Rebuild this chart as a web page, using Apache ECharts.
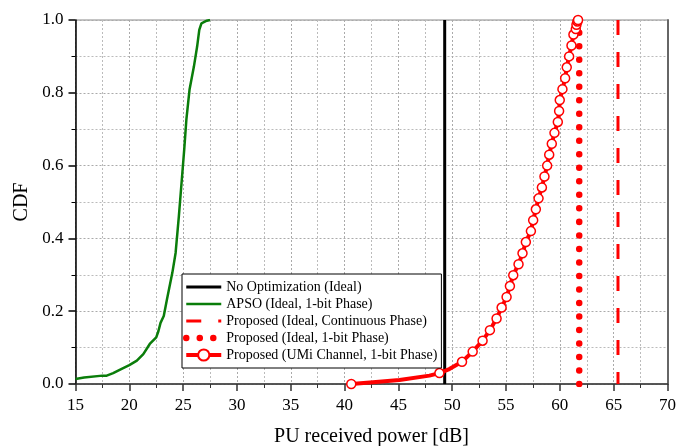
<!DOCTYPE html>
<html>
<head>
<meta charset="utf-8">
<script src="https://cdn.jsdelivr.net/npm/echarts@6/dist/echarts.min.js"></script>
<style>
html,body{margin:0;padding:0;background:#fff}
#cdf{width:692px;height:446px}
</style>
</head>
<body>
<div id="cdf"></div>
<script>
// series names, in legend order
var names = ['No Optimization (Ideal)', 'APSO (Ideal, 1-bit Phase)',
	'Proposed (Ideal, Continuous Phase)', 'Proposed (Ideal, 1-bit Phase)',
	'Proposed (UMi Channel, 1-bit Phase)'];

// vertical CDF steps (dB)
var noOptX = 49.3;
var contX = 65.4;
var oneBitX = 61.8;

// APSO curve
var apsoX = [15, 15.8, 17.5, 17.9, 18.5, 19.1, 20, 20.7, 21.3, 21.9, 22.5, 22.7, 22.9, 23.2, 23.5, 24.0,
	24.3, 24.6, 24.9, 25.1, 25.3, 25.6, 26.0, 26.3, 26.5, 26.7, 27.2, 27.5];
var apsoY = [0.014, 0.018, 0.023, 0.023, 0.030, 0.039, 0.052, 0.064, 0.082, 0.11, 0.128, 0.145, 0.168, 0.187, 0.233, 0.306,
	0.36, 0.46, 0.57, 0.644, 0.726, 0.81, 0.872, 0.927, 0.973, 0.991, 0.998, 1.0];

// UMi curve (mark: 1 = circle drawn at that point)
var umiX = [40.62, 42.63, 45.10, 47.88, 48.81, 49.73, 50.91, 51.90, 52.82, 53.50, 54.12, 54.59, 55.05, 55.36,
	55.67, 56.16, 56.53, 56.84, 57.31, 57.52, 57.77, 58.02, 58.33, 58.57, 58.82, 59.01, 59.25, 59.50,
	59.81, 59.93, 59.99, 60.24, 60.49, 60.64, 60.86, 61.08, 61.26, 61.48, 61.54, 61.63, 61.69];
var umiY = [0, 0.005, 0.011, 0.023, 0.03, 0.041, 0.061, 0.089, 0.119, 0.148, 0.18, 0.21, 0.239, 0.269,
	0.299, 0.329, 0.359, 0.39, 0.42, 0.45, 0.48, 0.51, 0.54, 0.57, 0.60, 0.63, 0.66, 0.69,
	0.72, 0.75, 0.78, 0.81, 0.84, 0.87, 0.90, 0.93, 0.96, 0.975, 0.987, 0.996, 1.0];
var umiMark = [1, 0, 0, 0, 1, 0, 1, 1, 1, 1, 1, 1, 1, 1,
	1, 1, 1, 1, 1, 1, 1, 1, 1, 1, 1, 1, 1, 1,
	1, 1, 1, 1, 1, 1, 1, 1, 1, 1, 1, 1, 1];

var font = 'Liberation Serif';

function pairs(xs, ys) {
	return xs.map(function (x, i) { return [x, ys[i]]; });
}
function vline(x) {
	return [[x, 1], [x, 0]];
}

var umiData = umiX.map(function (x, i) {
	var d = { value: [x, umiY[i]] };
	if (!umiMark[i]) d.symbol = 'none';
	return d;
});

// legend icons: no circle for the plain lines, keep real line widths
var noDot = { opacity: 0 };
var legendData = [
	{ name: names[0], itemStyle: noDot, lineStyle: { width: 3 } },
	{ name: names[1], itemStyle: noDot, lineStyle: { width: 2.5 } },
	{ name: names[2], itemStyle: noDot, lineStyle: { width: 3 } },
	{ name: names[3], itemStyle: noDot, lineStyle: { width: 6.5 } },
	{ name: names[4], lineStyle: { width: 4 } }
];

var myChart = echarts.init(document.getElementById('cdf'));

option = {
	animation: false,
	grid: {
		left: 75.5,
		right: 24.5,
		top: 20,
		bottom: 62,
		outerBoundsMode: 'none',
		show: true,
		borderColor: '#888',
		borderWidth: 1
	},
	legend: {
		orient: 'vertical',
		left: 182,
		top: 274,
		padding: [6, 4, 6, 1],
		itemWidth: 35,
		itemHeight: 14,
		itemGap: 3,
		backgroundColor: '#fff',
		borderColor: '#000',
		borderWidth: 1,
		borderRadius: 0,
		textStyle: { fontFamily: font, fontSize: 14, color: '#000' },
		data: legendData
	},
	xAxis: [{
		type: 'value',
		min: 15,
		max: 70,
		interval: 5,
		name: 'PU received power [dB]',
		nameLocation: 'middle',
		nameGap: 43,
		nameTextStyle: { fontFamily: font, fontSize: 20, color: '#000' },
		axisLine: { lineStyle: { color: '#333', width: 1.5 } },
		axisTick: { length: 7, lineStyle: { color: '#333', width: 1.5 } },
		minorTick: { show: true, splitNumber: 2, length: 4, lineStyle: { color: '#333' } },
		axisLabel: { fontFamily: font, fontSize: 17, color: '#000', margin: 13 },
		splitLine: { lineStyle: { color: '#aaa', type: [2, 2] } },
		minorSplitLine: { show: true, lineStyle: { color: '#bbb', type: [2, 2] } }
	}],
	yAxis: [{
		type: 'value',
		min: 0,
		max: 1,
		interval: 0.2,
		name: 'CDF',
		nameLocation: 'middle',
		nameGap: 40,
		nameTextStyle: { fontFamily: font, fontSize: 20, color: '#000' },
		axisLine: { show: true, lineStyle: { color: '#000', width: 1.5 } },
		axisTick: { show: true, length: 7, lineStyle: { color: '#000', width: 1.5 } },
		minorTick: { show: true, splitNumber: 2, length: 4, lineStyle: { color: '#000' } },
		axisLabel: {
			fontFamily: font, fontSize: 17, color: '#000', margin: 12,
			formatter: function (v) { return v.toFixed(1); }
		},
		splitLine: { lineStyle: { color: '#aaa', type: [2, 2] } },
		minorSplitLine: { show: true, lineStyle: { color: '#bbb', type: [2, 2] } }
	}, {
		type: 'value',
		position: 'right',
		min: 0,
		max: 1,
		axisLine: { show: true, lineStyle: { color: '#666', width: 2 } },
		axisTick: { show: false },
		axisLabel: { show: false },
		splitLine: { show: false }
	}],
	series: [
		{
			name: names[1],
			type: 'line',
			symbol: 'none',
			lineStyle: { color: '#0a7d0a', width: 2.5 },
			itemStyle: { color: '#0a7d0a' },
			data: pairs(apsoX, apsoY)
		},
		{
			name: names[0],
			type: 'line',
			symbol: 'none',
			lineStyle: { color: '#000', width: 3 },
			itemStyle: { color: '#000' },
			data: vline(noOptX)
		},
		{
			name: names[2],
			type: 'line',
			symbol: 'none',
			lineStyle: { color: '#ff0000', width: 3, type: [15, 17] },
			itemStyle: { color: '#ff0000' },
			data: vline(contX)
		},
		{
			name: names[3],
			type: 'line',
			symbol: 'none',
			lineStyle: { color: '#ff0000', width: 6.5, type: [0.01, 13.5], cap: 'round' },
			itemStyle: { color: '#ff0000' },
			data: [[oneBitX, 0], [oneBitX, 1]]
		},
		{
			name: names[4],
			type: 'line',
			symbol: 'circle',
			symbolSize: 9,
			showAllSymbol: true,
			lineStyle: { color: '#ff0000', width: 4 },
			itemStyle: { color: '#fff', borderColor: '#ff0000', borderWidth: 1.5 },
			data: umiData
		}
	]
};

myChart.setOption(option);
</script>
</body>
</html>
